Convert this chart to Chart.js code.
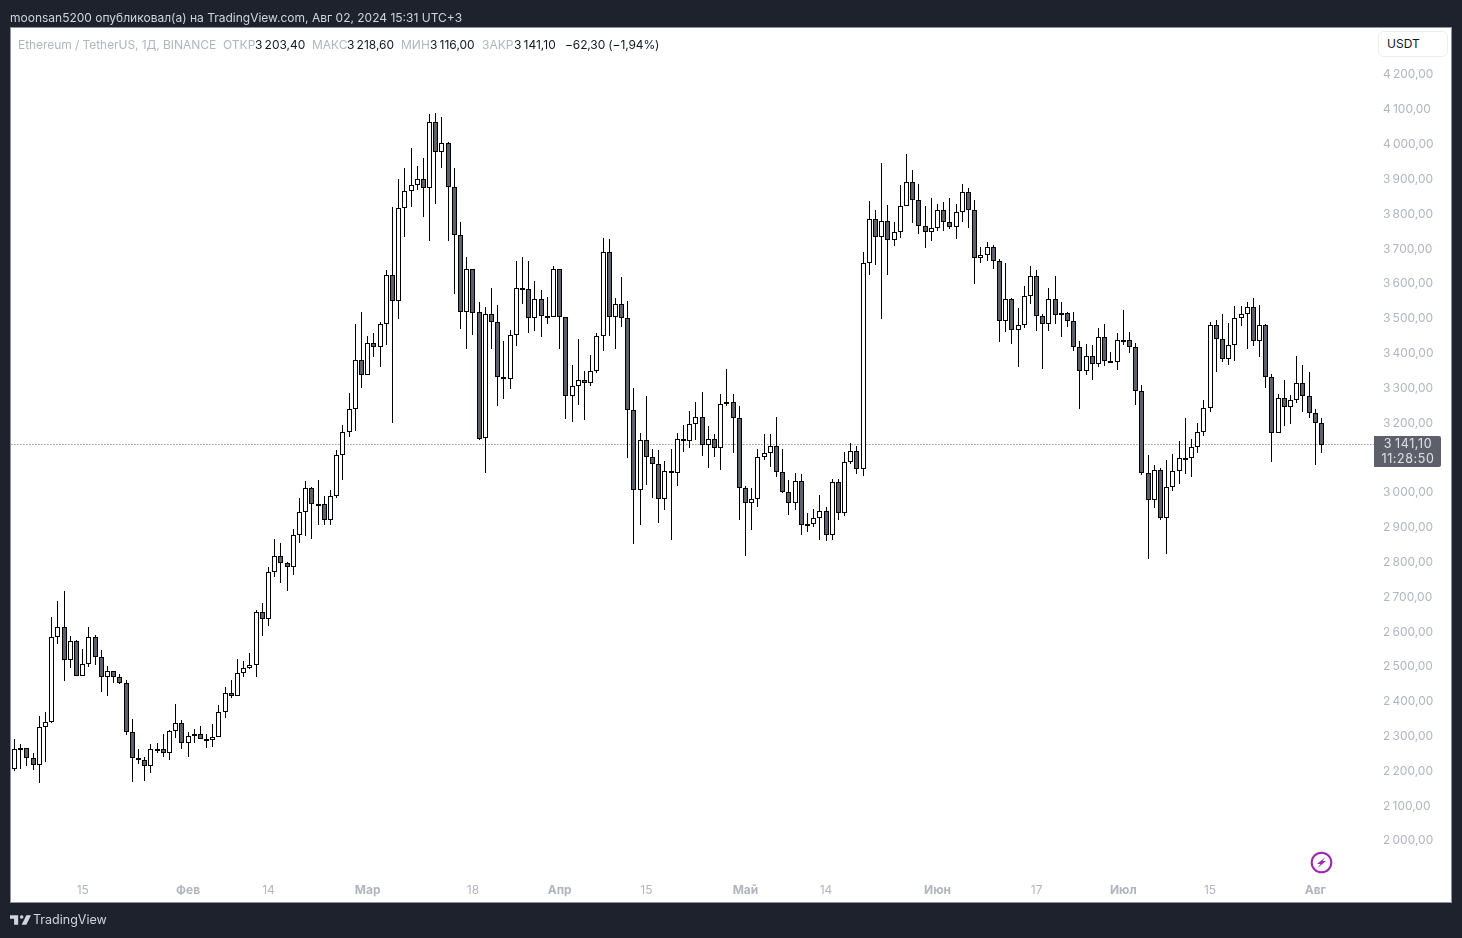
<!DOCTYPE html>
<html lang="ru">
<head>
<meta charset="utf-8">
<title>ETHUSDT</title>
<script src="https://cdn.jsdelivr.net/npm/chart.js@4"></script>
<style>
  html, body { margin: 0; padding: 0; width: 1462px; height: 938px; overflow: hidden; background: #1e222d; font-family: Inter, Roboto, sans-serif; }
  #panel { position: absolute; left: 10px; top: 27px; width: 1440px; height: 874px; background: #fff; border: 1px solid #8f939e; }
  #myChart { position: absolute; left: 0; top: 0; }
  .t { position: absolute; white-space: nowrap; font-size: 12px; line-height: 16px; }
  .g { color: #b2b5be; }
  .k { color: #131722; }
  #published { left: 10px; top: 10px; color: #d1d4dc; }
  #usdt { position: absolute; left: 1378px; top: 31px; width: 68px; height: 24px; border: 1px solid #ebedf0; border-radius: 6px; background: #fff; font-size: 12px; line-height: 24px; color: #131722; text-indent: 8px; }
  #brand { left: 33px; top: 912px; font-size: 12.5px; color: #d1d4dc; }
  svg { position: absolute; }
</style>
</head>
<body>
<div id="panel"></div>
<canvas id="myChart" width="1462" height="938"></canvas>
<div class="t" id="published">moonsan5200 опубликовал(а) на TradingView.com, Авг 02, 2024 15:31 UTC+3</div>
<div class="t g" style="left:18px;top:37px;letter-spacing:-0.06px">Ethereum / TetherUS, 1Д, BINANCE</div>
<div class="t g" style="left:223px;top:37px">ОТКР</div>
<div class="t k" style="left:255px;top:37px">3&thinsp;203,40</div>
<div class="t g" style="left:312px;top:37px">МАКС</div>
<div class="t k" style="left:347px;top:37px">3&thinsp;218,60</div>
<div class="t g" style="left:401px;top:37px">МИН</div>
<div class="t k" style="left:430px;top:37px">3&thinsp;116,00</div>
<div class="t g" style="left:482px;top:37px">ЗАКР</div>
<div class="t k" style="left:514px;top:37px">3&thinsp;141,10</div>
<div class="t k" style="left:565px;top:37px;letter-spacing:-0.12px">−62,30 (−1,94%)</div>
<div id="usdt">USDT</div>
<svg style="left:1310px;top:851px" width="23" height="23" viewBox="0 0 23 23">
  <circle cx="11.5" cy="11.5" r="9.8" fill="none" stroke="#9c27b0" stroke-width="2"/>
  <path d="M15.5 6 L7 13 H10.5 L7.5 17 L16 10 H12.5 Z" fill="#9c27b0"/>
</svg>
<svg style="left:10px;top:914px" width="21" height="12" viewBox="0 0 36 20">
  <path d="M14 2H0v6h7v10h7z" fill="#d1d4dc"/><circle cx="20" cy="5" r="3" fill="#d1d4dc"/><path d="M28 18h-8l8-16h8z" fill="#d1d4dc"/>
</svg>
<div class="t" id="brand">TradingView</div>
<script>
const opens = [2358,2210,2270,2270,2242,2222,2331,2344,2587,2618,2523,2578,2475,2512,2589,2532,2472,2492,2472,2457,
  2314,2242,2236,2219,2268,2268,2256,2319,2342,2285,2305,2311,2296,2291,2302,2374,2426,2419,2486,2500,
  2509,2661,2641,2776,2822,2802,2788,2882,2946,3015,2971,2971,2923,2994,3112,3178,3244,3385,3342,3434,
  3422,3488,3629,3554,3819,3870,3885,3905,3879,4066,3982,4006,3882,3744,3523,3646,3523,3161,3517,3494,
  3336,3330,3457,3592,3589,3503,3560,3511,3506,3646,3506,3279,3310,3327,3319,3352,3454,3695,3508,3546,
  3503,3239,3009,3155,3104,3086,2986,3066,3058,3158,3150,3201,3221,3141,3158,3132,3256,3264,3218,3015,
  2974,2986,3104,3118,3138,3063,3005,2974,3037,2913,2914,2930,2951,2881,3034,2945,3092,3123,3072,3663,
  3790,3738,3784,3729,3750,3827,3896,3844,3770,3750,3764,3816,3781,3767,3810,3867,3816,3678,3684,3707,
  3669,3497,3560,3471,3483,3569,3626,3511,3486,3560,3514,3520,3497,3422,3353,3396,3373,3451,3382,3379,
  3441,3442,3422,3296,3060,2983,3069,2930,3020,3066,3101,3101,3135,3178,3247,3485,3445,3388,3428,3505,
  3517,3537,3439,3483,3336,3175,3276,3250,3270,3319,3279,3233,3203.4];
const highs = [2376,2296,2280,2270,2255,2361,2372,2645,2691,2720,2590,2581,2555,2616,2595,2552,2506,2492,2483,2466,
  2354,2266,2245,2282,2285,2309,2322,2395,2351,2314,2325,2332,2311,2339,2394,2446,2464,2526,2519,2542,
  2667,2687,2788,2869,2859,2805,2897,2987,3035,3018,3038,2994,3009,3124,3198,3290,3488,3521,3452,3460,
  3493,3642,3824,3903,3934,3994,3942,3965,4089,4094,4083,4011,3936,3781,3681,3646,3549,3537,3590,3543,
  3437,3471,3667,3681,3667,3612,3586,3566,3655,3646,3506,3368,3445,3351,3399,3460,3733,3730,3563,3622,
  3554,3302,3175,3279,3129,3125,3095,3129,3173,3198,3236,3264,3293,3193,3170,3287,3359,3287,3253,3023,
  3017,3127,3170,3172,3221,3129,3040,3060,3055,2945,2957,2997,2963,3043,3043,3121,3146,3138,3695,3841,
  3816,3951,3830,3781,3885,3976,3930,3890,3827,3850,3833,3839,3850,3833,3888,3879,3842,3709,3724,3715,
  3675,3661,3563,3534,3595,3655,3641,3517,3592,3626,3549,3523,3523,3437,3431,3428,3477,3488,3408,3460,
  3526,3465,3434,3313,3112,3083,3075,3098,3115,3152,3218,3158,3204,3270,3494,3500,3517,3491,3540,3540,
  3549,3563,3543,3488,3344,3287,3327,3284,3396,3368,3350,3244,3218.6];
const lows = [2150,2204,2209,2218,2206,2169,2230,2341,2568,2462,2499,2475,2475,2502,2508,2430,2419,2456,2453,2308,
  2172,2223,2175,2198,2256,2244,2235,2298,2267,2244,2284,2296,2269,2272,2302,2357,2412,2419,2474,2497,
  2474,2591,2620,2761,2744,2721,2767,2859,2879,2870,2910,2910,2910,2988,3039,3163,3180,3304,3342,3393,
  3364,3428,3204,3502,3737,3823,3872,3795,3726,3832,3935,3726,3574,3474,3416,3456,3154,3060,3416,3252,
  3272,3301,3425,3545,3462,3467,3450,3488,3506,3416,3215,3206,3255,3212,3308,3347,3410,3453,3416,3479,
  3103,2856,2910,3025,2988,2916,2953,2867,3022,3120,3131,3153,3108,3074,3106,3068,3253,3117,2925,2821,
  2896,2962,3097,3077,3048,3003,2939,2953,2881,2890,2904,2867,2864,2867,2924,2936,3085,3057,3051,3629,
  3657,3502,3629,3711,3734,3827,3777,3746,3706,3726,3754,3754,3760,3732,3780,3763,3602,3663,3668,3645,
  3436,3464,3430,3364,3477,3546,3467,3358,3467,3487,3450,3479,3410,3243,3341,3327,3364,3367,3375,3355,
  3427,3404,3255,3054,2813,2959,2924,2828,3008,3028,3057,3048,3118,3166,3235,3349,3378,3370,3381,3481,
  3416,3424,3393,3303,3091,3175,3194,3201,3260,3235,3217,3082,3116];
const closes = [2216,2268,2269,2242,2222,2331,2345,2587,2618,2523,2578,2475,2512,2589,2532,2472,2492,2472,2457,2314,
  2242,2236,2219,2268,2268,2256,2319,2342,2285,2305,2311,2296,2291,2302,2374,2426,2419,2486,2500,2509,
  2661,2641,2776,2822,2802,2788,2882,2946,3015,2969,2969,2923,2994,3112,3178,3244,3385,3342,3434,3422,
  3488,3629,3554,3819,3870,3885,3905,3879,4066,3982,4006,3882,3744,3523,3646,3520,3158,3517,3494,3336,
  3330,3457,3592,3589,3503,3560,3511,3506,3646,3506,3279,3310,3327,3319,3352,3454,3695,3508,3546,3503,
  3239,3009,3155,3104,3086,2986,3066,3058,3158,3150,3201,3221,3141,3158,3132,3256,3264,3218,3015,2974,
  2986,3104,3118,3138,3063,3005,2974,3037,2910,2913,2930,2951,2881,3034,2945,3092,3123,3072,3663,3790,
  3738,3784,3729,3750,3827,3896,3844,3770,3750,3764,3816,3781,3767,3810,3867,3816,3678,3684,3707,3669,
  3497,3560,3471,3483,3569,3626,3511,3486,3560,3514,3520,3497,3422,3353,3396,3373,3451,3382,3382,3440,
  3439,3422,3296,3060,2983,3069,2930,3020,3066,3101,3101,3135,3178,3247,3485,3445,3388,3428,3505,3517,
  3537,3439,3483,3336,3175,3276,3250,3270,3319,3279,3233,3203.4,3141.1];

const dayTicks = [12, 29, 42, 58, 75, 89, 103, 119, 132, 150, 166, 180, 194, 211];
const dayLabels = ['15', 'Фев', '14', 'Мар', '18', 'Апр', '15', 'Май', '14', 'Июн', '17', 'Июл', '15', 'Авг'];
const priceTicks = [2000,2100,2200,2300,2400,2500,2600,2700,2800,2900,3000,3100,3200,3300,3400,3500,3600,3700,3800,3900,4000,4100,4200];
const lastPrice = 3141.1;
const lastPriceText = '3\u2009141,10';
const countdownText = '11:28:50';

const fontFamily = 'Inter, Roboto, sans-serif';
const isUp = i => closes[i] >= opens[i];

function priceLabel(v) {
  const s = v.toFixed(2).replace('.', ',');
  return s[0] + '\u2009' + s.slice(1);
}

// month names are bold on the time axis
function dayFont(c) {
  const isMonth = c.tick && isNaN(dayLabels[dayTicks.indexOf(c.tick.value)]);
  return {family: fontFamily, size: 12, weight: isMonth ? 'bold' : 'normal'};
}

// TradingView keeps candles on whole pixels, chart.js does not
const snapCandles = {
  id: 'snapCandles',
  beforeDatasetsDraw(chart) {
    chart.getSortedVisibleDatasetMetas().forEach(meta => {
      if (meta.type !== 'bar') return;
      meta.data.forEach(el => {
        el.x = Math.floor(el.x) + 0.5;
        const top = Math.round(Math.min(el.y, el.base));
        const bottom = Math.round(Math.max(el.y, el.base));
        el.y = top;
        el.base = Math.max(bottom, top + 2);
      });
    });
  }
};

// grey box with the last price on the right side
const lastPriceBox = {
  id: 'lastPriceBox',
  afterDraw(chart) {
    const ctx = chart.ctx;
    const mid = Math.floor(chart.scales.y.getPixelForValue(lastPrice)) + 7;
    const left = chart.chartArea.right;
    ctx.save();
    ctx.fillStyle = '#5d606b';
    ctx.beginPath();
    ctx.roundRect(left, mid - 15, 67, 31, [0, 2, 2, 0]);
    ctx.fill();
    ctx.fillStyle = '#e0e1e5';
    ctx.font = '12.5px ' + fontFamily;
    ctx.textAlign = 'center';
    ctx.textBaseline = 'middle';
    ctx.letterSpacing = '0.6px';
    ctx.fillText(lastPriceText, left + 34, mid - 7);
    ctx.fillText(countdownText, left + 34, mid + 8);
    ctx.restore();
  }
};

const config = {
  data: {
    datasets: [{
      type: 'line',
      data: [{x: 0, y: lastPrice}, {x: 220.47, y: lastPrice}],
      borderColor: '#5d606b',
      borderWidth: 1,
      borderDash: [1, 2],
      pointRadius: 0,
      order: 3
    }, {
      type: 'bar',
      data: lows.map((l, i) => ({x: i, y: [l, highs[i]]})),
      backgroundColor: '#000',
      borderWidth: 0,
      inflateAmount: 0,
      barThickness: 1,
      grouped: false,
      order: 2
    }, {
      type: 'bar',
      data: opens.map((o, i) => ({x: i, y: [o, closes[i]]})),
      backgroundColor: opens.map((o, i) => isUp(i) ? '#fff' : '#5d606b'),
      borderColor: '#000',
      borderWidth: 1,
      borderSkipped: false,
      inflateAmount: 0,
      barThickness: 5,
      grouped: false,
      order: 1
    }]
  },
  options: {
    responsive: false,
    animation: false,
    layout: {padding: {left: 11, top: 28, right: 11, bottom: 36}},
    plugins: {legend: {display: false}, tooltip: {enabled: false}},
    scales: {
      x: {
        type: 'linear',
        offset: false,
        min: 0.42,
        max: 220.47,
        grid: {display: false},
        border: {display: false},
        afterBuildTicks: s => { s.ticks = dayTicks.map(v => ({value: v})); },
        afterFit: s => { s.height = 27; },
        ticks: {
          autoSkip: false,
          maxRotation: 0,
          color: '#b2b5be',
          padding: 0,
          font: dayFont,
          callback: v => dayLabels[dayTicks.indexOf(v)]
        }
      },
      y: {
        position: 'right',
        min: 1904.7,
        max: 4337.3,
        grid: {display: false},
        border: {display: false},
        afterBuildTicks: s => { s.ticks = priceTicks.map(v => ({value: v})); },
        afterFit: s => { s.width = 77; },
        ticks: {
          autoSkip: false,
          color: '#b2b5be',
          padding: 1,
          labelOffset: -1,
          font: {family: fontFamily, size: 12},
          callback: v => priceLabel(v)
        }
      }
    }
  },
  plugins: [snapCandles, lastPriceBox]
};

const myChart = new Chart(document.getElementById('myChart'), config);
</script>
</body>
</html>
